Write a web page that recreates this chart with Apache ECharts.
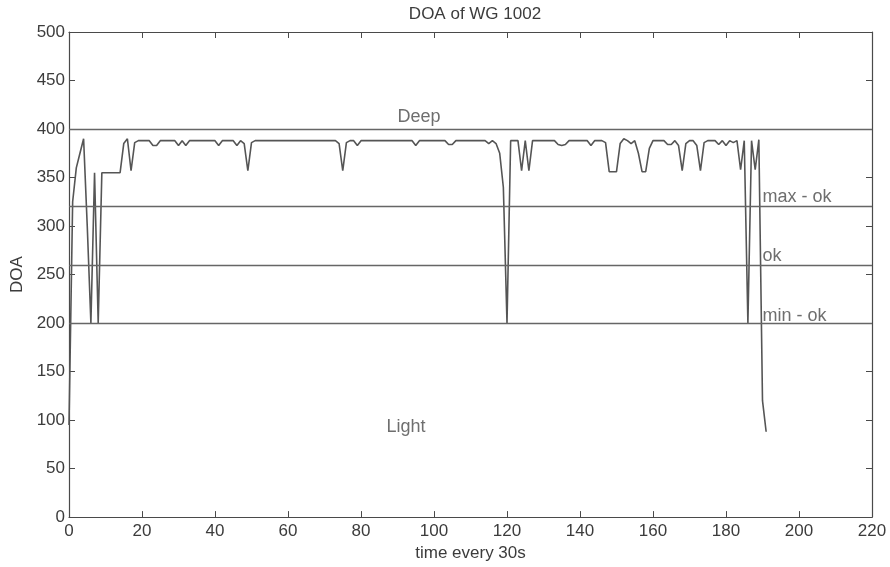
<!DOCTYPE html>
<html>
<head>
<meta charset="utf-8">
<title>DOA of WG 1002</title>
<script src="https://cdn.jsdelivr.net/npm/echarts@6/dist/echarts.min.js"></script>
<style>
  html, body { margin: 0; padding: 0; background: #fff; }
  #chart { width: 890px; height: 567px; }
</style>
</head>
<body>
<div id="chart"></div>
<script>
// DOA sampled every 30s (index = sample number)
var doa = [
  95, 325, 360, 375, 390, 300, 200, 355, 200, 355,
  355, 355, 355, 355, 355, 385, 390, 357, 386, 388,
  388, 388, 388, 383, 383, 388, 388, 388, 388, 388,
  383, 388, 383, 388, 388, 388, 388, 388, 388, 388,
  388, 383, 388, 388, 388, 388, 383, 388, 385, 357,
  386, 388, 388, 388, 388, 388, 388, 388, 388, 388,
  388, 388, 388, 388, 388, 388, 388, 388, 388, 388,
  388, 388, 388, 388, 385, 357, 386, 388, 388, 383,
  388, 388, 388, 388, 388, 388, 388, 388, 388, 388,
  388, 388, 388, 388, 388, 383, 388, 388, 388, 388,
  388, 388, 388, 388, 384, 384, 388, 388, 388, 388,
  388, 388, 388, 388, 388, 385, 388, 385, 375, 340,
  200, 388, 388, 388, 357, 388, 357, 388, 388, 388,
  388, 388, 388, 388, 384, 383, 384, 388, 388, 388,
  388, 388, 388, 383, 388, 388, 388, 386, 356, 356,
  356, 385, 390, 388, 385, 388, 375, 356, 356, 380,
  388, 388, 388, 388, 384, 384, 388, 383, 357, 385,
  388, 388, 383, 357, 386, 388, 388, 388, 384, 388,
  383, 388, 386, 388, 358, 388, 200, 388, 358, 389,
  120, 88
];

// limit lines
var limits = [400, 320, 260, 200];

// zone labels and where they sit (data units)
var zoneNames = ['Deep', 'max - ok', 'ok', 'min - ok', 'Light'];
var zoneX = [90, 190, 190, 190, 87];
var zoneY = [412, 330, 269, 207, 93];

var xTicks = { min: 0, max: 220, step: 20 };
var yTicks = { min: 0, max: 500, step: 50 };

var lineData = doa.map(function (v, i) { return [i, v]; });
var zoneData = zoneNames.map(function (n, i) { return [zoneX[i], zoneY[i], n]; });

var axisGrey = '#4a4a4a';
var textGrey = '#3c3c3c';
var font = '"Liberation Sans", Arial, sans-serif';

function xAx(pos, labels) {
  return {
    type: 'value',
    position: pos,
    min: xTicks.min, max: xTicks.max, interval: xTicks.step,
    name: labels ? 'time every 30s' : '',
    nameLocation: 'middle',
    nameGap: 24,
    nameTextStyle: { color: textGrey, fontSize: 17, fontFamily: font },
    axisLine: { show: true, onZero: false, lineStyle: { color: axisGrey, width: 1.2 } },
    axisTick: { show: true, inside: true, length: 6, lineStyle: { color: axisGrey } },
    axisLabel: { show: labels, margin: 6, color: textGrey, fontSize: 17, fontFamily: font },
    splitLine: { show: false }
  };
}
function yAx(pos, labels) {
  return {
    type: 'value',
    position: pos,
    min: yTicks.min, max: yTicks.max, interval: yTicks.step,
    name: labels ? 'DOA' : '',
    nameLocation: 'middle',
    nameGap: 41,
    nameRotate: 90,
    nameTextStyle: { color: textGrey, fontSize: 17, fontFamily: font },
    axisLine: { show: true, onZero: false, lineStyle: { color: axisGrey, width: 1.2 } },
    axisTick: { show: true, inside: true, length: 6, lineStyle: { color: axisGrey } },
    axisLabel: { show: labels, margin: 4, color: textGrey, fontSize: 17, fontFamily: font },
    splitLine: { show: false }
  };
}

var chart = echarts.init(document.getElementById('chart'), null, { renderer: 'canvas' });
chart.setOption({
  animation: false,
  backgroundColor: '#fff',
  title: {
    text: 'DOA of WG 1002',
    left: 470, top: 1, textAlign: 'center',
    textStyle: { color: textGrey, fontSize: 17, fontWeight: 'normal', fontFamily: font }
  },
  grid: { left: 69, right: 18, top: 32, bottom: 43 },
  xAxis: [xAx('bottom', true), xAx('top', false)],
  yAxis: [yAx('left', true), yAx('right', false)],
  series: [
    {
      type: 'line',
      data: lineData,
      showSymbol: false,
      lineStyle: { color: '#555', width: 1.6 },
      markLine: {
        silent: true,
        symbol: 'none',
        label: { show: false },
        lineStyle: { color: '#666', width: 1.3, type: 'solid' },
        data: limits.map(function (v) { return { yAxis: v }; })
      }
    },
    {
      type: 'scatter',
      data: zoneData,
      symbolSize: 0,
      label: {
        show: true,
        position: 'right',
        distance: 0,
        formatter: function (p) { return p.data[2]; },
        color: '#4a4a4a',
        fontSize: 18,
        fontFamily: font
      }
    }
  ]
});
</script>
</body>
</html>
